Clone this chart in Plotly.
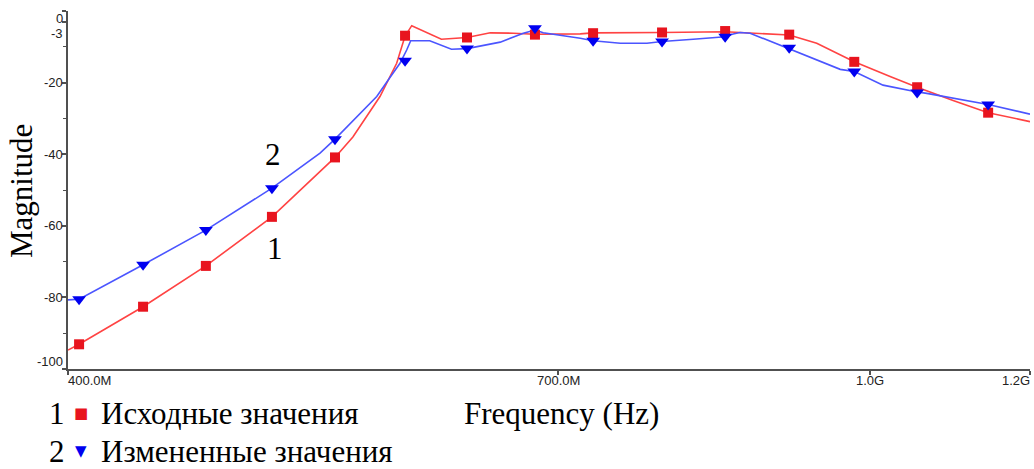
import math
import plotly.graph_objects as go

# ---------------- data ----------------
# Curve 1 (original values) - dense trace, MHz / dB
red_curve_f = [400, 405.1, 435.8, 468.2, 504.9, 542.6, 553.8, 571.2, 582.2, 587.8, 592.3,
               612.7, 630.9, 647.9, 665.1, 681.8, 718.0, 728.6, 788.3, 847.2, 861.8,
               911.5, 940.6, 981.8, 1022.8, 1054.9, 1099.1, 1144, 1200]
red_curve_db = [-94.7, -93.1, -82.6, -71.2, -57.5, -40.9, -35.2, -23.9, -14.6, -7.0, -4.1,
                -7.9, -7.4, -6.1, -6.2, -6.5, -6.4, -6.1, -6.0, -5.8, -6.0,
                -6.7, -9.0, -14.2, -18.3, -21.3, -25.0, -28.4, -30.9]

# Curve 2 (modified values)
blue_curve_f = [400, 405.1, 435.8, 468.2, 504.9, 533.4, 542.6, 558.3, 569.1, 578.9, 584.4,
                588.9, 591.6, 604.6, 619.8, 630.9, 655.3, 672.8, 681.8, 688.3, 701.8,
                718.0, 728.6, 751.6, 774.8, 788.3, 816.8, 847.2, 855.0, 861.8, 871.7,
                911.5, 966.2, 981.8, 1014.6, 1054.9, 1066.6, 1144, 1200]
blue_curve_db = [-80.7, -80.5, -70.9, -61.2, -49.5, -39.7, -35.8, -28.6, -23.9, -17.9, -14.6,
                 -10.9, -8.3, -8.3, -10.7, -10.5, -8.7, -6.2, -5.3, -6.1, -6.7,
                 -7.6, -8.3, -9.0, -9.0, -8.5, -7.9, -7.2, -6.4, -6.0, -6.2,
                 -10.5, -16.3, -16.9, -20.7, -22.6, -23.0, -26.1, -28.8]

# Marker positions (MHz) shared by both series
marker_f = [405.1, 435.8, 468.2, 504.9, 542.6, 587.8, 630.9, 681.8, 728.6, 788.3,
            847.2, 911.5, 981.8, 1054.9, 1144]
red_marker_db = [-93.1, -82.6, -71.2, -57.5, -40.9, -6.9, -7.4, -6.6, -6.2, -6.0,
                 -5.6, -6.6, -14.2, -21.3, -28.4]
blue_marker_db = [-80.5, -70.9, -61.2, -49.5, -35.8, -13.9, -10.5, -4.8, -8.3, -8.5,
                  -7.2, -10.3, -16.9, -22.8, -26.1]

x_tick_vals_mhz = [400, 700, 1000, 1200]
x_tick_text = ["400.0M", "700.0M", "1.0G", "1.2G"]
y_tick_vals = [0, -3, -20, -40, -60, -80, -100]
y_minor_vals = [-10, -30, -50, -70, -90]

legend_names = ["Исходные значения", "Измененные значения"]

# ---------------- figure ----------------
M = 1e6
RED_LINE = "#FF4343"
RED_MARK = "#E8141E"
BLUE_LINE = "#4B55FF"
BLUE_MARK = "#0000F0"
AXIS = "#505050"
SERIF = "Liberation Serif"
SANS = "Liberation Sans"

fig = go.Figure()
fig.add_trace(go.Scatter(x=[f * M for f in red_curve_f], y=red_curve_db, mode="lines",
                         line=dict(color=RED_LINE, width=1.6), showlegend=False, hoverinfo="skip"))
fig.add_trace(go.Scatter(x=[f * M for f in blue_curve_f], y=blue_curve_db, mode="lines",
                         line=dict(color=BLUE_LINE, width=1.6), showlegend=False, hoverinfo="skip"))
fig.add_trace(go.Scatter(x=[f * M for f in marker_f], y=red_marker_db, mode="markers",
                         marker=dict(symbol="square", size=10, color=RED_MARK), showlegend=False))
fig.add_trace(go.Scatter(x=[f * M for f in marker_f], y=blue_marker_db, mode="markers",
                         marker=dict(symbol="triangle-down", size=12, color=BLUE_MARK), showlegend=False))

fig.update_layout(
    width=1034, height=469,
    margin=dict(l=68, r=4, t=11, b=100),
    paper_bgcolor="white", plot_bgcolor="white",
    showlegend=False,
)
fig.update_xaxes(
    type="log",
    range=[math.log10(400 * M), math.log10(1200 * M)],
    tickvals=[v * M for v in x_tick_vals_mhz], showticklabels=False,
    ticks="outside", ticklen=4, tickcolor=AXIS, tickwidth=1.5,
    showline=True, linecolor=AXIS, linewidth=2, showgrid=False, zeroline=False,
)
fig.update_yaxes(
    range=[-100, 0],
    tickvals=y_tick_vals, showticklabels=False,
    ticks="outside", ticklen=4, tickcolor=AXIS, tickwidth=1.5,
    minor=dict(tickvals=y_minor_vals, ticks="outside", ticklen=3, tickcolor=AXIS, tickwidth=1),
    showline=True, linecolor=AXIS, linewidth=2, showgrid=False, zeroline=False,
)

ann = []
tick_font = dict(family=SANS, size=13, color="#222")
# x tick labels
for v, t in zip(x_tick_vals_mhz, x_tick_text):
    if v == x_tick_vals_mhz[0]:
        xa, xs = "left", -2
    elif v == x_tick_vals_mhz[-1]:
        xa, xs = "right", 2
    else:
        xa, xs = "center", 0
    ann.append(dict(x=math.log10(v * M), xref="x", y=-0.031, yref="paper", text=t,
                    xanchor=xa, yanchor="middle", xshift=xs, showarrow=False, font=tick_font))
# y tick labels
y_shift = {0: -7, -3: -12, -100: 8}
for v in y_tick_vals:
    ann.append(dict(x=0, xref="paper", y=v, yref="y", text=str(v), xanchor="right",
                    yanchor="middle", xshift=-3, yshift=y_shift.get(v, 0),
                    showarrow=False, font=tick_font))

big = dict(family=SERIF, size=31, color="black")
ann.append(dict(x=-0.0489, xref="paper", y=0.497, yref="paper", text="Magnitude",
                textangle=-90, xanchor="center", yanchor="middle", showarrow=False, font=big))
ann.append(dict(x=0.513, xref="paper", y=-0.123, yref="paper", text="Frequency (Hz)",
                xanchor="center", yanchor="middle", showarrow=False, font=big))

# curve labels
ann.append(dict(x=math.log10(505.5 * M), xref="x", y=-40.2, yref="y", text="2",
                showarrow=False, font=big))
ann.append(dict(x=math.log10(506.7 * M), xref="x", y=-66.2, yref="y", text="1",
                showarrow=False, font=big))

# legend (text + symbols)
rows = [(-0.123, "1", "■", RED_MARK, legend_names[0]),
        (-0.230, "2", "▼", BLUE_MARK, legend_names[1])]
for yy, num, sym, col, name in rows:
    ann.append(dict(x=-0.0114, xref="paper", y=yy, yref="paper", text=num,
                    xanchor="center", yanchor="middle", showarrow=False, font=big))
    ann.append(dict(x=0.0135, xref="paper", y=yy, yref="paper", text=sym,
                    xanchor="center", yanchor="middle", showarrow=False,
                    font=dict(family="DejaVu Sans", size=15, color=col)))
    ann.append(dict(x=0.0322, xref="paper", y=yy, yref="paper", text=name,
                    xanchor="left", yanchor="middle", showarrow=False, font=big))

fig.update_layout(annotations=ann)
fig.write_html("out.html")
